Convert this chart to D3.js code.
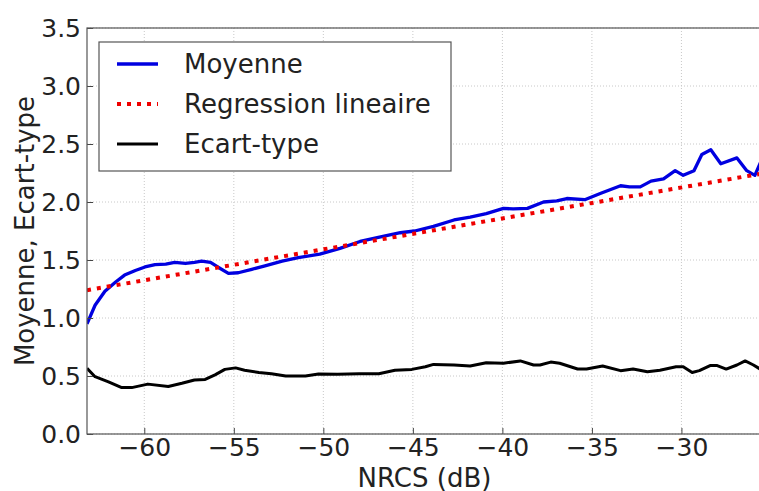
<!DOCTYPE html>
<html><head><meta charset="utf-8">
<script src="https://cdn.jsdelivr.net/npm/d3@7"></script>
<style>
html,body{margin:0;padding:0;background:#fff;}
svg{display:block;font-family:"DejaVu Sans",sans-serif;}
</style></head>
<body>
<svg id="c" width="759" height="491"></svg>
<script>
const xTicks = [-60, -55, -50, -45, -40, -35, -30];
const yTicks = [0.0, 0.5, 1.0, 1.5, 2.0, 2.5, 3.0, 3.5];
const seriesNames = ["Moyenne", "Regression lineaire", "Ecart-type"];

const xMoy = [-63.2,-62.75,-62.2,-61.6,-61.1,-60.5,-59.96,-59.4,-58.8,-58.3,-57.7,-57.2,-56.8,-56.3,-55.9,-55.3,-54.75,-54.0,-53.26,-52.3,-51.4,-50.2,-49.07,-47.95,-46.8,-45.7,-44.9,-43.85,-42.7,-41.8,-40.9,-39.94,-39.4,-38.6,-37.7,-36.96,-36.4,-35.4,-34.5,-33.4,-32.9,-32.3,-31.7,-31.0,-30.35,-29.9,-29.3,-28.86,-28.36,-27.8,-26.9,-26.35,-25.9,-25.5];
const yMoy = [0.95,1.11,1.23,1.31,1.37,1.41,1.44,1.46,1.465,1.48,1.47,1.48,1.49,1.48,1.44,1.385,1.39,1.42,1.45,1.49,1.52,1.55,1.60,1.66,1.70,1.735,1.75,1.79,1.845,1.87,1.90,1.945,1.94,1.945,2.0,2.01,2.03,2.02,2.075,2.14,2.13,2.13,2.18,2.20,2.27,2.23,2.27,2.41,2.45,2.33,2.38,2.27,2.23,2.37];

const xReg = [-63.2, -25.5];
const yReg = [1.24, 2.245];

const xStd = [-63.2,-62.75,-62.0,-61.26,-60.7,-59.8,-58.66,-57.9,-57.2,-56.6,-56.05,-55.5,-54.9,-54.4,-53.6,-52.9,-52.1,-51.0,-50.27,-49.2,-48.0,-46.9,-46.0,-45.06,-44.3,-43.85,-42.7,-41.8,-40.9,-39.94,-39.0,-38.26,-37.9,-37.3,-36.8,-35.8,-35.3,-34.4,-33.4,-32.7,-31.9,-31.2,-30.3,-29.9,-29.4,-29.0,-28.4,-28.0,-27.5,-26.9,-26.44,-25.98,-25.5];
const yStd = [0.566,0.494,0.45,0.40,0.40,0.43,0.41,0.437,0.466,0.47,0.51,0.557,0.57,0.55,0.53,0.52,0.50,0.50,0.517,0.515,0.52,0.52,0.55,0.557,0.58,0.60,0.595,0.586,0.615,0.61,0.63,0.595,0.595,0.62,0.61,0.56,0.56,0.586,0.546,0.56,0.537,0.55,0.58,0.58,0.53,0.546,0.59,0.59,0.56,0.595,0.63,0.595,0.55];

const svg = d3.select("#c");
const L = 87, R = 762, T = 28, B = 434;
const x = d3.scaleLinear().domain([-63.2, -25.5]).range([L, R]);
const y = d3.scaleLinear().domain([0, 3.5]).range([B, T]);

// grid
const g = svg.append("g");
g.selectAll(".gx").data(xTicks).enter().append("line")
  .attr("x1", d => x(d)).attr("x2", d => x(d)).attr("y1", T).attr("y2", B)
  .attr("stroke", "#c8c8c8").attr("stroke-width", 1).attr("stroke-dasharray", "1,2");
g.selectAll(".gy").data(yTicks).enter().append("line")
  .attr("x1", L).attr("x2", R).attr("y1", d => y(d)).attr("y2", d => y(d))
  .attr("stroke", "#c8c8c8").attr("stroke-width", 1).attr("stroke-dasharray", "1,2");

svg.append("defs").append("clipPath").attr("id", "clip")
  .append("rect").attr("x", L).attr("y", T).attr("width", R - L).attr("height", B - T);
const plot = svg.append("g").attr("clip-path", "url(#clip)");

const line = d3.line().x(d => x(d[0])).y(d => y(d[1]));

plot.append("path").datum(d3.zip(xStd, yStd)).attr("d", line)
  .attr("fill", "none").attr("stroke", "#000").attr("stroke-width", 3).attr("stroke-linejoin", "round");
plot.append("path").datum(d3.zip(xMoy, yMoy)).attr("d", line)
  .attr("fill", "none").attr("stroke", "#0000e0").attr("stroke-width", 3.3).attr("stroke-linejoin", "round");
plot.append("path").datum(d3.zip(xReg, yReg)).attr("d", line)
  .attr("fill", "none").attr("stroke", "#ee0000").attr("stroke-width", 4).attr("stroke-dasharray", "4,6");

// axes
const xAxis = d3.axisBottom(x).tickValues(xTicks).tickSize(-6).tickPadding(4)
  .tickFormat(d => "\u2212" + Math.abs(d));
const gx = svg.append("g").attr("transform", `translate(0,${B})`).call(xAxis);
gx.select(".domain").remove();
gx.selectAll("line").attr("stroke", "#444");
gx.selectAll("text").attr("font-size", 25).attr("fill", "#222").attr("font-family", "DejaVu Sans");

const yAxis = d3.axisLeft(y).tickValues(yTicks).tickSize(-6).tickPadding(6)
  .tickFormat(d3.format(".1f"));
const gy = svg.append("g").attr("transform", `translate(${L},0)`).call(yAxis);
gy.select(".domain").remove();
gy.selectAll("line").attr("stroke", "#444");
gy.selectAll("text").attr("font-size", 25).attr("fill", "#222").attr("font-family", "DejaVu Sans");

// frame
svg.append("rect").attr("x", L).attr("y", T).attr("width", R - L).attr("height", B - T)
  .attr("fill", "none").attr("stroke", "#555").attr("stroke-width", 1.2);

// labels
svg.append("text").attr("x", (L + R) / 2).attr("y", 487).attr("text-anchor", "middle")
  .attr("font-size", 26).attr("fill", "#222").text("NRCS (dB)");
svg.append("text").attr("transform", `translate(34,${(T + B) / 2}) rotate(-90)`)
  .attr("text-anchor", "middle").attr("font-size", 26).attr("fill", "#222").text("Moyenne, Ecart-type");

// legend
const lg = svg.append("g");
lg.append("rect").attr("x", 99).attr("y", 42).attr("width", 352).attr("height", 129)
  .attr("fill", "#fff").attr("stroke", "#555").attr("stroke-width", 1.2);
const legStyles = [
  {c: "#0000e0", w: 3.3, da: null},
  {c: "#ee0000", w: 4, da: "4,6"},
  {c: "#000", w: 3, da: null}
];
const legY = [64, 104, 144];
seriesNames.forEach((n, i) => {
  const ln = lg.append("line").attr("x1", 117).attr("x2", 158).attr("y1", legY[i]).attr("y2", legY[i])
    .attr("stroke", legStyles[i].c).attr("stroke-width", legStyles[i].w);
  if (legStyles[i].da) ln.attr("stroke-dasharray", legStyles[i].da);
  lg.append("text").attr("x", 184).attr("y", legY[i] + 9).attr("font-size", 26).attr("fill", "#222").text(n);
});
</script>
</body></html>
